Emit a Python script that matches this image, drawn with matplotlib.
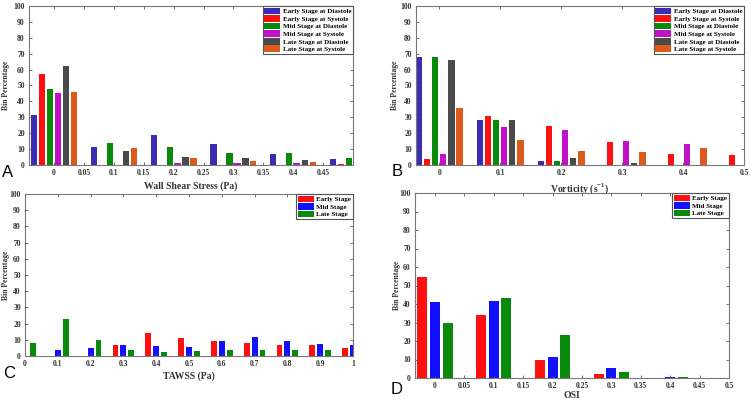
import matplotlib
matplotlib.use('Agg')
import matplotlib.pyplot as plt
import numpy as np

plt.rcParams['font.family'] = ['Liberation Serif', 'DejaVu Serif']
plt.rcParams['font.weight'] = 'bold'
plt.rcParams['mathtext.fontset'] = 'custom'
plt.rcParams['mathtext.rm'] = 'Liberation Serif:bold'
plt.rcParams['mathtext.bf'] = 'Liberation Serif:bold'

# panel A: wall shear stress
wss_bins = [0, 0.1, 0.2, 0.3, 0.4, 0.5]
wss_labels = ['Early Stage at Diastole', 'Early Stage at Systole', 'Mid Stage at Diastole',
              'Mid Stage at Systole', 'Late Stage at Diastole', 'Late Stage at Systole']
wss_vals = [
    [31.5, 11.5, 18.7, 13.0, 7.0, 3.5],
    [57.5, 0.0, 0.0, 0.0, 0.2, 0.5],
    [48.0, 13.8, 11.2, 7.5, 7.8, 4.5],
    [45.0, 0.2, 1.3, 1.3, 1.5, 0.0],
    [62.0, 9.0, 4.8, 4.5, 3.2, 0.0],
    [46.0, 10.5, 4.5, 2.8, 2.0, 0.0],
]

# panel B: vorticity
vort_bins = [0, 0.1, 0.2, 0.3, 0.4, 0.5]
vort_vals = [
    [68.0, 28.5, 2.8, 0.0, 0.0, 0.0],
    [3.5, 31.0, 24.5, 14.2, 7.0, 6.0],
    [68.0, 28.5, 2.8, 0.3, 0.3, 0.0],
    [7.0, 24.0, 22.0, 14.8, 13.5, 0.0],
    [66.0, 28.0, 4.2, 1.0, 0.0, 0.0],
    [36.0, 15.5, 8.5, 8.0, 11.0, 0.0],
]

# panel C: TAWSS
stage_labels = ['Early Stage', 'Mid Stage', 'Late Stage']
tawss_bins = [0, 0.1, 0.2, 0.3, 0.4, 0.5, 0.6, 0.7, 0.8, 0.9, 1.0]
tawss_vals = [
    [0.0, 0.0, 0.0, 7.0, 14.0, 11.0, 9.5, 8.0, 7.0, 7.0, 4.8],
    [0.0, 4.0, 5.0, 7.0, 6.0, 5.5, 9.5, 11.5, 9.0, 7.5, 6.5],
    [7.8, 23.0, 9.7, 4.0, 2.3, 3.2, 3.7, 3.7, 3.5, 3.7, 0.0],
]

# panel D: OSI
osi_bins = [0, 0.1, 0.2, 0.3, 0.4, 0.5]
osi_vals = [
    [54.5, 34.0, 9.5, 2.0, 0.0, 0.0],
    [41.0, 41.5, 11.2, 5.5, 0.6, 0.0],
    [29.5, 43.5, 23.0, 3.5, 0.3, 0.0],
]

six_colors = ['#3b2db3', '#ff1010', '#0a8a0a', '#c010c8', '#4a4a4a', '#dc5a1c']
three_colors = ['#ff1010', '#1010ff', '#0a8a0a']

fig = plt.figure(figsize=(7.5, 4), dpi=100)


def grouped(ax, bins, vals, colors, labels, step, width, xlim, xticks, xticklabels, xlabel,
            xpad=3):
    n = len(vals)
    x = np.array(bins)
    for i, v in enumerate(vals):
        ax.bar(x + (i - (n - 1) / 2) * step, v, width, color=colors[i], label=labels[i])
    ax.set_xlim(*xlim)
    ax.set_ylim(0, 100)
    ax.set_yticks(np.arange(0, 101, 10))
    ax.set_xticks(xticks)
    ax.set_xticklabels(xticklabels)
    ax.tick_params(direction='in', length=2.5, width=0.6, labelsize=5.5, colors='#555555',
                   labelcolor='#333333', top=True, right=True, pad=3)
    for s in ax.spines.values():
        s.set_color('#777777')
        s.set_linewidth(0.8)
    ax.set_xlabel(xlabel, fontsize=7, fontweight='bold', color='#333333', labelpad=xpad)
    ax.set_ylabel('Bin Percentage', fontsize=5.5, fontweight='bold', color='#333333')
    leg = ax.legend(loc='upper right', fontsize=5.0, fancybox=False, framealpha=1,
                    edgecolor='#555555', handlelength=2.3, handleheight=1.1,
                    borderpad=0.25, labelspacing=0.12, handletextpad=0.35,
                    borderaxespad=0.0)
    leg.get_frame().set_linewidth(0.8)
    return ax


axA = fig.add_axes([29 / 750, 1 - 165 / 400, 324 / 750, 159 / 400])
grouped(axA, wss_bins, wss_vals, six_colors, wss_labels, 0.0133, 0.0105,
        (-0.042, 0.5), np.arange(0, 0.46, 0.05),
        ['0', '0.05', '0.1', '0.15', '0.2', '0.25', '0.3', '0.35', '0.4', '0.45'],
        'Wall Shear Stress (Pa)')
axA.yaxis.set_label_coords(-0.058, 0.5)

axB = fig.add_axes([416 / 750, 1 - 165 / 400, 328 / 750, 159 / 400])
grouped(axB, vort_bins, vort_vals, six_colors, wss_labels, 0.0133, 0.0105,
        (-0.038, 0.5), [0, 0.1, 0.2, 0.3, 0.4, 0.5],
        ['0', '0.1', '0.2', '0.3', '0.4', '0.5'],
        r'Vorticity (s$^{-1}$)')
axB.yaxis.set_label_coords(-0.052, 0.5)

axC = fig.add_axes([25 / 750, 1 - 356 / 400, 328 / 750, 162 / 400])
grouped(axC, tawss_bins, tawss_vals, three_colors, stage_labels, 0.024, 0.018,
        (0, 1), tawss_bins,
        ['0', '0.1', '0.2', '0.3', '0.4', '0.5', '0.6', '0.7', '0.8', '0.9', '1'],
        'TAWSS (Pa)', xpad=2)
axC.yaxis.set_label_coords(-0.046, 0.5)

axD = fig.add_axes([415 / 750, 1 - 378 / 400, 314 / 750, 185 / 400])
grouped(axD, osi_bins, osi_vals, three_colors, stage_labels, 0.0215, 0.017,
        (-0.034, 0.5), np.arange(0, 0.51, 0.05),
        ['0', '0.05', '0.1', '0.15', '0.2', '0.25', '0.3', '0.35', '0.4', '0.45', '0.5'],
        'OSI', xpad=0.5)
axD.yaxis.set_label_coords(-0.045, 0.5)

for letter, (lx, ly) in zip('ABCD', [(2, 177), (392, 176), (3, 378), (391, 394)]):
    fig.text(lx / 750, 1 - ly / 400, letter, fontsize=12, family='Liberation Sans',
             fontweight='normal', color='black', ha='left', va='baseline')

fig.savefig('out.png', dpi=100)
